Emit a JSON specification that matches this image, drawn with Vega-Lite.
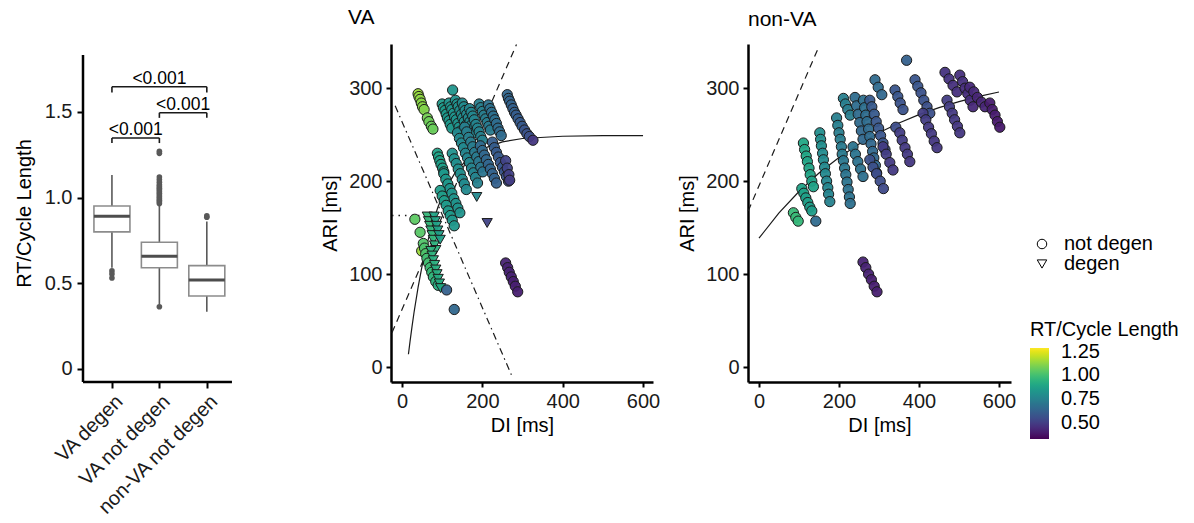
{
  "$schema": "https://vega.github.io/schema/vega-lite/v6.json",
  "background": "white",
  "padding": {"left": 14, "top": 7, "right": 5, "bottom": 5},
  "bounds": "flush",
  "spacing": 95,
  "config": {
    "font": "Liberation Sans",
    "view": {"stroke": null},
    "axis": {"grid": false, "domainColor": "black", "domainWidth": 2.5, "tickColor": "black", "tickWidth": 2, "tickSize": 5, "labelFontSize": 20, "labelColor": "#1a1a1a", "labelPadding": 4, "titleFontSize": 20, "titleFontWeight": "normal", "titleColor": "black"},
    "legend": {"labelFontSize": 20, "titleFontSize": 20, "titleFontWeight": "normal", "titleColor": "black", "labelColor": "black", "rowPadding": 0, "padding": 0, "labelOverlap": false},
    "title": {"fontSize": 21, "fontWeight": "normal", "anchor": "start", "frame": "group", "color": "black", "offset": 14}
  },
  "resolve": {"scale": {"color": "shared", "shape": "shared"}, "legend": {"color": "shared", "shape": "shared"}},
  "datasets": {
    "box": [
      {"pos": 1, "group": "VA degen", "lower": 0.59, "q1": 0.80, "median": 0.891, "q3": 0.951, "upper": 1.132},
      {"pos": 2, "group": "VA not degen", "lower": 0.375, "q1": 0.591, "median": 0.657, "q3": 0.739, "upper": 0.955},
      {"pos": 3, "group": "non-VA not degen", "lower": 0.334, "q1": 0.426, "median": 0.519, "q3": 0.603, "upper": 0.86}
    ],
    "outliers": [
      {"pos": 1, "value": 0.572}, {"pos": 1, "value": 0.554}, {"pos": 1, "value": 0.531},
      {"pos": 2, "value": 0.363}, {"pos": 2, "value": 0.965}, {"pos": 2, "value": 0.975}, {"pos": 2, "value": 0.985},
      {"pos": 2, "value": 0.995}, {"pos": 2, "value": 1.005}, {"pos": 2, "value": 1.015}, {"pos": 2, "value": 1.025},
      {"pos": 2, "value": 1.035}, {"pos": 2, "value": 1.045}, {"pos": 2, "value": 1.055}, {"pos": 2, "value": 1.065},
      {"pos": 2, "value": 1.075}, {"pos": 2, "value": 1.09}, {"pos": 2, "value": 1.105}, {"pos": 2, "value": 1.12},
      {"pos": 2, "value": 1.258}, {"pos": 2, "value": 1.27},
      {"pos": 3, "value": 0.885}, {"pos": 3, "value": 0.893}
    ],
    "brackets": [
      {"from": 1, "to": 2, "mid": 1.5, "y": 1.348, "tip": 1.318, "label": "<0.001"},
      {"from": 2, "to": 3, "mid": 2.5, "y": 1.495, "tip": 1.465, "label": "<0.001"},
      {"from": 1, "to": 3, "mid": 2.0, "y": 1.647, "tip": 1.613, "label": "<0.001"}
    ],
    "va": [
      {"DI": 40, "ARI": 294, "ratio": 1.15, "type": "not degen"}, {"DI": 42, "ARI": 291, "ratio": 1.14, "type": "not degen"},
      {"DI": 45, "ARI": 288, "ratio": 1.13, "type": "not degen"}, {"DI": 48, "ARI": 284, "ratio": 1.12, "type": "not degen"},
      {"DI": 51, "ARI": 280, "ratio": 1.12, "type": "not degen"}, {"DI": 55, "ARI": 277, "ratio": 1.11, "type": "not degen"},
      {"DI": 63, "ARI": 268, "ratio": 1.09, "type": "not degen"}, {"DI": 67, "ARI": 264, "ratio": 1.08, "type": "not degen"},
      {"DI": 73, "ARI": 259, "ratio": 1.07, "type": "not degen"}, {"DI": 77, "ARI": 256, "ratio": 1.07, "type": "not degen"},
      {"DI": 126, "ARI": 298, "ratio": 0.83, "type": "not degen"},
      {"DI": 88, "ARI": 230, "ratio": 0.88, "type": "not degen"}, {"DI": 91, "ARI": 226, "ratio": 0.88, "type": "not degen"},
      {"DI": 94, "ARI": 222, "ratio": 0.88, "type": "not degen"}, {"DI": 97, "ARI": 218, "ratio": 0.87, "type": "not degen"},
      {"DI": 101, "ARI": 214, "ratio": 0.87, "type": "not degen"}, {"DI": 104, "ARI": 210, "ratio": 0.87, "type": "not degen"},
      {"DI": 100, "ARI": 283, "ratio": 0.85, "type": "not degen"}, {"DI": 103, "ARI": 279, "ratio": 0.85, "type": "not degen"},
      {"DI": 107, "ARI": 276, "ratio": 0.85, "type": "not degen"}, {"DI": 110, "ARI": 272, "ratio": 0.85, "type": "not degen"},
      {"DI": 113, "ARI": 268, "ratio": 0.84, "type": "not degen"}, {"DI": 117, "ARI": 265, "ratio": 0.84, "type": "not degen"},
      {"DI": 120, "ARI": 261, "ratio": 0.84, "type": "not degen"}, {"DI": 124, "ARI": 257, "ratio": 0.84, "type": "not degen"},
      {"DI": 117, "ARI": 284, "ratio": 0.83, "type": "not degen"}, {"DI": 121, "ARI": 280, "ratio": 0.83, "type": "not degen"},
      {"DI": 124, "ARI": 277, "ratio": 0.83, "type": "not degen"}, {"DI": 128, "ARI": 273, "ratio": 0.83, "type": "not degen"},
      {"DI": 131, "ARI": 269, "ratio": 0.82, "type": "not degen"}, {"DI": 135, "ARI": 266, "ratio": 0.82, "type": "not degen"},
      {"DI": 139, "ARI": 262, "ratio": 0.82, "type": "not degen"}, {"DI": 142, "ARI": 258, "ratio": 0.82, "type": "not degen"},
      {"DI": 146, "ARI": 254, "ratio": 0.81, "type": "not degen"},
      {"DI": 133, "ARI": 287, "ratio": 0.81, "type": "not degen"}, {"DI": 137, "ARI": 283, "ratio": 0.81, "type": "not degen"},
      {"DI": 140, "ARI": 280, "ratio": 0.81, "type": "not degen"}, {"DI": 144, "ARI": 276, "ratio": 0.8, "type": "not degen"},
      {"DI": 148, "ARI": 272, "ratio": 0.8, "type": "not degen"}, {"DI": 151, "ARI": 268, "ratio": 0.8, "type": "not degen"},
      {"DI": 155, "ARI": 264, "ratio": 0.8, "type": "not degen"}, {"DI": 159, "ARI": 260, "ratio": 0.79, "type": "not degen"},
      {"DI": 150, "ARI": 284, "ratio": 0.79, "type": "not degen"}, {"DI": 154, "ARI": 280, "ratio": 0.79, "type": "not degen"},
      {"DI": 157, "ARI": 276, "ratio": 0.79, "type": "not degen"}, {"DI": 161, "ARI": 272, "ratio": 0.78, "type": "not degen"},
      {"DI": 165, "ARI": 268, "ratio": 0.78, "type": "not degen"}, {"DI": 169, "ARI": 264, "ratio": 0.78, "type": "not degen"},
      {"DI": 172, "ARI": 260, "ratio": 0.78, "type": "not degen"}, {"DI": 176, "ARI": 256, "ratio": 0.77, "type": "not degen"},
      {"DI": 180, "ARI": 252, "ratio": 0.77, "type": "not degen"},
      {"DI": 168, "ARI": 278, "ratio": 0.77, "type": "not degen"}, {"DI": 172, "ARI": 274, "ratio": 0.77, "type": "not degen"},
      {"DI": 176, "ARI": 270, "ratio": 0.77, "type": "not degen"}, {"DI": 180, "ARI": 266, "ratio": 0.76, "type": "not degen"},
      {"DI": 184, "ARI": 261, "ratio": 0.76, "type": "not degen"}, {"DI": 188, "ARI": 257, "ratio": 0.76, "type": "not degen"},
      {"DI": 192, "ARI": 253, "ratio": 0.75, "type": "not degen"}, {"DI": 196, "ARI": 248, "ratio": 0.75, "type": "not degen"},
      {"DI": 200, "ARI": 244, "ratio": 0.75, "type": "not degen"},
      {"DI": 192, "ARI": 283, "ratio": 0.74, "type": "not degen"}, {"DI": 196, "ARI": 279, "ratio": 0.74, "type": "not degen"},
      {"DI": 200, "ARI": 275, "ratio": 0.74, "type": "not degen"}, {"DI": 204, "ARI": 271, "ratio": 0.73, "type": "not degen"},
      {"DI": 208, "ARI": 267, "ratio": 0.73, "type": "not degen"}, {"DI": 212, "ARI": 263, "ratio": 0.73, "type": "not degen"},
      {"DI": 216, "ARI": 259, "ratio": 0.72, "type": "not degen"}, {"DI": 220, "ARI": 255, "ratio": 0.72, "type": "not degen"},
      {"DI": 215, "ARI": 282, "ratio": 0.69, "type": "not degen"}, {"DI": 219, "ARI": 278, "ratio": 0.69, "type": "not degen"},
      {"DI": 223, "ARI": 274, "ratio": 0.68, "type": "not degen"}, {"DI": 227, "ARI": 270, "ratio": 0.68, "type": "not degen"},
      {"DI": 231, "ARI": 266, "ratio": 0.68, "type": "not degen"}, {"DI": 235, "ARI": 262, "ratio": 0.67, "type": "not degen"},
      {"DI": 239, "ARI": 257, "ratio": 0.67, "type": "not degen"}, {"DI": 243, "ARI": 253, "ratio": 0.66, "type": "not degen"},
      {"DI": 247, "ARI": 249, "ratio": 0.66, "type": "not degen"},
      {"DI": 262, "ARI": 293, "ratio": 0.64, "type": "not degen"}, {"DI": 265, "ARI": 289, "ratio": 0.64, "type": "not degen"},
      {"DI": 268, "ARI": 286, "ratio": 0.63, "type": "not degen"}, {"DI": 272, "ARI": 282, "ratio": 0.63, "type": "not degen"},
      {"DI": 276, "ARI": 278, "ratio": 0.62, "type": "not degen"}, {"DI": 280, "ARI": 274, "ratio": 0.62, "type": "not degen"},
      {"DI": 284, "ARI": 271, "ratio": 0.61, "type": "not degen"}, {"DI": 289, "ARI": 267, "ratio": 0.61, "type": "not degen"},
      {"DI": 294, "ARI": 263, "ratio": 0.6, "type": "not degen"}, {"DI": 299, "ARI": 259, "ratio": 0.6, "type": "not degen"},
      {"DI": 305, "ARI": 255, "ratio": 0.58, "type": "not degen"}, {"DI": 311, "ARI": 251, "ratio": 0.57, "type": "not degen"},
      {"DI": 317, "ARI": 248, "ratio": 0.56, "type": "not degen"}, {"DI": 326, "ARI": 244, "ratio": 0.48, "type": "not degen"},
      {"DI": 138, "ARI": 252, "ratio": 0.78, "type": "not degen"}, {"DI": 143, "ARI": 246, "ratio": 0.78, "type": "not degen"},
      {"DI": 148, "ARI": 241, "ratio": 0.78, "type": "not degen"}, {"DI": 153, "ARI": 236, "ratio": 0.78, "type": "not degen"},
      {"DI": 158, "ARI": 230, "ratio": 0.77, "type": "not degen"}, {"DI": 163, "ARI": 225, "ratio": 0.77, "type": "not degen"},
      {"DI": 168, "ARI": 220, "ratio": 0.77, "type": "not degen"}, {"DI": 173, "ARI": 214, "ratio": 0.76, "type": "not degen"},
      {"DI": 178, "ARI": 209, "ratio": 0.76, "type": "not degen"}, {"DI": 183, "ARI": 204, "ratio": 0.76, "type": "not degen"},
      {"DI": 188, "ARI": 198, "ratio": 0.75, "type": "not degen"},
      {"DI": 156, "ARI": 258, "ratio": 0.74, "type": "not degen"}, {"DI": 161, "ARI": 253, "ratio": 0.74, "type": "not degen"},
      {"DI": 166, "ARI": 247, "ratio": 0.74, "type": "not degen"}, {"DI": 171, "ARI": 242, "ratio": 0.73, "type": "not degen"},
      {"DI": 176, "ARI": 237, "ratio": 0.73, "type": "not degen"}, {"DI": 181, "ARI": 231, "ratio": 0.72, "type": "not degen"},
      {"DI": 186, "ARI": 226, "ratio": 0.72, "type": "not degen"}, {"DI": 191, "ARI": 221, "ratio": 0.71, "type": "not degen"},
      {"DI": 196, "ARI": 215, "ratio": 0.71, "type": "not degen"}, {"DI": 201, "ARI": 210, "ratio": 0.7, "type": "not degen"},
      {"DI": 195, "ARI": 238, "ratio": 0.66, "type": "not degen"}, {"DI": 200, "ARI": 233, "ratio": 0.66, "type": "not degen"},
      {"DI": 205, "ARI": 228, "ratio": 0.65, "type": "not degen"}, {"DI": 210, "ARI": 223, "ratio": 0.65, "type": "not degen"},
      {"DI": 215, "ARI": 218, "ratio": 0.64, "type": "not degen"}, {"DI": 220, "ARI": 213, "ratio": 0.64, "type": "not degen"},
      {"DI": 225, "ARI": 208, "ratio": 0.63, "type": "not degen"}, {"DI": 230, "ARI": 203, "ratio": 0.63, "type": "not degen"},
      {"DI": 235, "ARI": 198, "ratio": 0.62, "type": "not degen"},
      {"DI": 225, "ARI": 242, "ratio": 0.61, "type": "not degen"}, {"DI": 230, "ARI": 236, "ratio": 0.61, "type": "not degen"},
      {"DI": 235, "ARI": 231, "ratio": 0.6, "type": "not degen"}, {"DI": 240, "ARI": 226, "ratio": 0.6, "type": "not degen"},
      {"DI": 245, "ARI": 220, "ratio": 0.59, "type": "not degen"}, {"DI": 250, "ARI": 215, "ratio": 0.59, "type": "not degen"},
      {"DI": 255, "ARI": 210, "ratio": 0.58, "type": "not degen"}, {"DI": 260, "ARI": 205, "ratio": 0.57, "type": "not degen"},
      {"DI": 265, "ARI": 200, "ratio": 0.56, "type": "not degen"},
      {"DI": 258, "ARI": 222, "ratio": 0.52, "type": "not degen"}, {"DI": 262, "ARI": 214, "ratio": 0.52, "type": "not degen"},
      {"DI": 266, "ARI": 207, "ratio": 0.51, "type": "not degen"}, {"DI": 268, "ARI": 201, "ratio": 0.5, "type": "not degen"},
      {"DI": 125, "ARI": 230, "ratio": 0.81, "type": "not degen"}, {"DI": 130, "ARI": 224, "ratio": 0.81, "type": "not degen"},
      {"DI": 135, "ARI": 219, "ratio": 0.8, "type": "not degen"}, {"DI": 140, "ARI": 213, "ratio": 0.8, "type": "not degen"},
      {"DI": 145, "ARI": 208, "ratio": 0.8, "type": "not degen"}, {"DI": 150, "ARI": 202, "ratio": 0.79, "type": "not degen"},
      {"DI": 155, "ARI": 197, "ratio": 0.79, "type": "not degen"}, {"DI": 160, "ARI": 191, "ratio": 0.78, "type": "not degen"},
      {"DI": 104, "ARI": 208, "ratio": 0.84, "type": "not degen"}, {"DI": 109, "ARI": 202, "ratio": 0.84, "type": "not degen"},
      {"DI": 114, "ARI": 197, "ratio": 0.84, "type": "not degen"}, {"DI": 119, "ARI": 192, "ratio": 0.83, "type": "not degen"},
      {"DI": 124, "ARI": 187, "ratio": 0.83, "type": "not degen"}, {"DI": 129, "ARI": 181, "ratio": 0.83, "type": "not degen"},
      {"DI": 134, "ARI": 176, "ratio": 0.82, "type": "not degen"}, {"DI": 139, "ARI": 171, "ratio": 0.82, "type": "not degen"},
      {"DI": 144, "ARI": 166, "ratio": 0.82, "type": "not degen"},
      {"DI": 95, "ARI": 190, "ratio": 0.86, "type": "not degen"}, {"DI": 100, "ARI": 184, "ratio": 0.86, "type": "not degen"},
      {"DI": 105, "ARI": 179, "ratio": 0.86, "type": "not degen"}, {"DI": 110, "ARI": 174, "ratio": 0.85, "type": "not degen"},
      {"DI": 115, "ARI": 168, "ratio": 0.85, "type": "not degen"}, {"DI": 120, "ARI": 163, "ratio": 0.85, "type": "not degen"},
      {"DI": 125, "ARI": 158, "ratio": 0.84, "type": "not degen"}, {"DI": 130, "ARI": 152, "ratio": 0.84, "type": "not degen"},
      {"DI": 32, "ARI": 159, "ratio": 1.05, "type": "not degen"}, {"DI": 45, "ARI": 145, "ratio": 1.04, "type": "not degen"},
      {"DI": 49, "ARI": 125, "ratio": 1.15, "type": "not degen"}, {"DI": 53, "ARI": 133, "ratio": 1.03, "type": "not degen"},
      {"DI": 56, "ARI": 128, "ratio": 1.02, "type": "not degen"}, {"DI": 59, "ARI": 122, "ratio": 1.02, "type": "not degen"},
      {"DI": 62, "ARI": 117, "ratio": 1.0, "type": "not degen"}, {"DI": 66, "ARI": 112, "ratio": 1.0, "type": "not degen"},
      {"DI": 70, "ARI": 107, "ratio": 0.99, "type": "not degen"}, {"DI": 74, "ARI": 102, "ratio": 0.98, "type": "not degen"},
      {"DI": 78, "ARI": 97, "ratio": 0.96, "type": "not degen"}, {"DI": 84, "ARI": 92, "ratio": 0.95, "type": "not degen"},
      {"DI": 90, "ARI": 88, "ratio": 0.92, "type": "not degen"},
      {"DI": 63, "ARI": 162, "ratio": 0.97, "type": "degen"}, {"DI": 66, "ARI": 157, "ratio": 0.97, "type": "degen"},
      {"DI": 69, "ARI": 152, "ratio": 0.97, "type": "degen"}, {"DI": 72, "ARI": 147, "ratio": 0.96, "type": "degen"},
      {"DI": 75, "ARI": 142, "ratio": 0.96, "type": "degen"}, {"DI": 78, "ARI": 137, "ratio": 0.96, "type": "degen"},
      {"DI": 81, "ARI": 131, "ratio": 0.95, "type": "degen"}, {"DI": 84, "ARI": 126, "ratio": 0.95, "type": "degen"},
      {"DI": 72, "ARI": 125, "ratio": 0.95, "type": "degen"}, {"DI": 75, "ARI": 120, "ratio": 0.95, "type": "degen"},
      {"DI": 78, "ARI": 115, "ratio": 0.94, "type": "degen"}, {"DI": 81, "ARI": 110, "ratio": 0.94, "type": "degen"},
      {"DI": 84, "ARI": 105, "ratio": 0.93, "type": "degen"}, {"DI": 87, "ARI": 100, "ratio": 0.93, "type": "degen"},
      {"DI": 90, "ARI": 95, "ratio": 0.92, "type": "degen"}, {"DI": 93, "ARI": 90, "ratio": 0.92, "type": "degen"},
      {"DI": 96, "ARI": 85, "ratio": 0.91, "type": "degen"},
      {"DI": 80, "ARI": 162, "ratio": 0.89, "type": "degen"}, {"DI": 83, "ARI": 157, "ratio": 0.89, "type": "degen"},
      {"DI": 86, "ARI": 152, "ratio": 0.88, "type": "degen"}, {"DI": 89, "ARI": 147, "ratio": 0.88, "type": "degen"},
      {"DI": 92, "ARI": 142, "ratio": 0.87, "type": "degen"}, {"DI": 95, "ARI": 137, "ratio": 0.87, "type": "degen"},
      {"DI": 186, "ARI": 183, "ratio": 0.78, "type": "degen"},
      {"DI": 212, "ARI": 155, "ratio": 0.52, "type": "degen"},
      {"DI": 130, "ARI": 62, "ratio": 0.65, "type": "not degen"}, {"DI": 111, "ARI": 83, "ratio": 0.62, "type": "not degen"},
      {"DI": 258, "ARI": 112, "ratio": 0.42, "type": "not degen"}, {"DI": 263, "ARI": 107, "ratio": 0.42, "type": "not degen"},
      {"DI": 267, "ARI": 102, "ratio": 0.42, "type": "not degen"}, {"DI": 272, "ARI": 97, "ratio": 0.42, "type": "not degen"},
      {"DI": 277, "ARI": 92, "ratio": 0.41, "type": "not degen"}, {"DI": 282, "ARI": 87, "ratio": 0.41, "type": "not degen"},
      {"DI": 288, "ARI": 81, "ratio": 0.41, "type": "not degen"}
    ],
    "nonva": [
      {"DI": 86, "ARI": 166, "ratio": 0.98, "type": "not degen"}, {"DI": 92, "ARI": 161, "ratio": 0.98, "type": "not degen"},
      {"DI": 98, "ARI": 157, "ratio": 0.97, "type": "not degen"},
      {"DI": 142, "ARI": 157, "ratio": 0.66, "type": "not degen"},
      {"DI": 111, "ARI": 241, "ratio": 0.9, "type": "not degen"}, {"DI": 114, "ARI": 234, "ratio": 0.9, "type": "not degen"},
      {"DI": 118, "ARI": 227, "ratio": 0.9, "type": "not degen"}, {"DI": 121, "ARI": 221, "ratio": 0.89, "type": "not degen"},
      {"DI": 125, "ARI": 214, "ratio": 0.89, "type": "not degen"}, {"DI": 128, "ARI": 207, "ratio": 0.89, "type": "not degen"},
      {"DI": 132, "ARI": 200, "ratio": 0.88, "type": "not degen"}, {"DI": 136, "ARI": 194, "ratio": 0.88, "type": "not degen"},
      {"DI": 107, "ARI": 192, "ratio": 0.88, "type": "not degen"}, {"DI": 112, "ARI": 187, "ratio": 0.88, "type": "not degen"},
      {"DI": 117, "ARI": 182, "ratio": 0.87, "type": "not degen"}, {"DI": 122, "ARI": 177, "ratio": 0.87, "type": "not degen"},
      {"DI": 127, "ARI": 172, "ratio": 0.86, "type": "not degen"}, {"DI": 132, "ARI": 168, "ratio": 0.86, "type": "not degen"},
      {"DI": 152, "ARI": 252, "ratio": 0.8, "type": "not degen"}, {"DI": 154, "ARI": 245, "ratio": 0.8, "type": "not degen"},
      {"DI": 156, "ARI": 238, "ratio": 0.8, "type": "not degen"}, {"DI": 159, "ARI": 230, "ratio": 0.79, "type": "not degen"},
      {"DI": 161, "ARI": 223, "ratio": 0.79, "type": "not degen"}, {"DI": 164, "ARI": 215, "ratio": 0.78, "type": "not degen"},
      {"DI": 166, "ARI": 208, "ratio": 0.78, "type": "not degen"}, {"DI": 169, "ARI": 200, "ratio": 0.77, "type": "not degen"},
      {"DI": 172, "ARI": 193, "ratio": 0.77, "type": "not degen"}, {"DI": 174, "ARI": 186, "ratio": 0.76, "type": "not degen"},
      {"DI": 177, "ARI": 178, "ratio": 0.75, "type": "not degen"},
      {"DI": 194, "ARI": 268, "ratio": 0.74, "type": "not degen"}, {"DI": 197, "ARI": 260, "ratio": 0.74, "type": "not degen"},
      {"DI": 200, "ARI": 252, "ratio": 0.73, "type": "not degen"}, {"DI": 203, "ARI": 245, "ratio": 0.73, "type": "not degen"},
      {"DI": 206, "ARI": 237, "ratio": 0.72, "type": "not degen"}, {"DI": 208, "ARI": 229, "ratio": 0.72, "type": "not degen"},
      {"DI": 211, "ARI": 222, "ratio": 0.71, "type": "not degen"}, {"DI": 214, "ARI": 214, "ratio": 0.71, "type": "not degen"},
      {"DI": 217, "ARI": 207, "ratio": 0.7, "type": "not degen"}, {"DI": 220, "ARI": 199, "ratio": 0.7, "type": "not degen"},
      {"DI": 223, "ARI": 191, "ratio": 0.69, "type": "not degen"}, {"DI": 226, "ARI": 183, "ratio": 0.69, "type": "not degen"},
      {"DI": 228, "ARI": 176, "ratio": 0.68, "type": "not degen"},
      {"DI": 211, "ARI": 289, "ratio": 0.74, "type": "not degen"}, {"DI": 216, "ARI": 283, "ratio": 0.74, "type": "not degen"},
      {"DI": 222, "ARI": 277, "ratio": 0.73, "type": "not degen"}, {"DI": 228, "ARI": 271, "ratio": 0.73, "type": "not degen"},
      {"DI": 240, "ARI": 290, "ratio": 0.67, "type": "not degen"}, {"DI": 244, "ARI": 281, "ratio": 0.67, "type": "not degen"},
      {"DI": 248, "ARI": 272, "ratio": 0.66, "type": "not degen"}, {"DI": 252, "ARI": 263, "ratio": 0.66, "type": "not degen"},
      {"DI": 256, "ARI": 254, "ratio": 0.65, "type": "not degen"}, {"DI": 260, "ARI": 245, "ratio": 0.65, "type": "not degen"},
      {"DI": 235, "ARI": 237, "ratio": 0.7, "type": "not degen"}, {"DI": 241, "ARI": 229, "ratio": 0.7, "type": "not degen"},
      {"DI": 247, "ARI": 221, "ratio": 0.69, "type": "not degen"}, {"DI": 254, "ARI": 213, "ratio": 0.69, "type": "not degen"},
      {"DI": 260, "ARI": 205, "ratio": 0.68, "type": "not degen"},
      {"DI": 261, "ARI": 287, "ratio": 0.68, "type": "not degen"}, {"DI": 264, "ARI": 279, "ratio": 0.68, "type": "not degen"},
      {"DI": 267, "ARI": 271, "ratio": 0.67, "type": "not degen"}, {"DI": 270, "ARI": 264, "ratio": 0.67, "type": "not degen"},
      {"DI": 274, "ARI": 256, "ratio": 0.66, "type": "not degen"}, {"DI": 277, "ARI": 248, "ratio": 0.66, "type": "not degen"},
      {"DI": 280, "ARI": 240, "ratio": 0.65, "type": "not degen"}, {"DI": 284, "ARI": 232, "ratio": 0.65, "type": "not degen"},
      {"DI": 287, "ARI": 225, "ratio": 0.64, "type": "not degen"}, {"DI": 291, "ARI": 217, "ratio": 0.64, "type": "not degen"},
      {"DI": 294, "ARI": 209, "ratio": 0.63, "type": "not degen"},
      {"DI": 290, "ARI": 309, "ratio": 0.66, "type": "not degen"}, {"DI": 298, "ARI": 301, "ratio": 0.66, "type": "not degen"},
      {"DI": 307, "ARI": 293, "ratio": 0.65, "type": "not degen"},
      {"DI": 277, "ARI": 287, "ratio": 0.6, "type": "not degen"}, {"DI": 282, "ARI": 280, "ratio": 0.6, "type": "not degen"},
      {"DI": 288, "ARI": 272, "ratio": 0.6, "type": "not degen"}, {"DI": 293, "ARI": 264, "ratio": 0.59, "type": "not degen"},
      {"DI": 299, "ARI": 257, "ratio": 0.59, "type": "not degen"}, {"DI": 304, "ARI": 249, "ratio": 0.58, "type": "not degen"},
      {"DI": 310, "ARI": 241, "ratio": 0.58, "type": "not degen"}, {"DI": 315, "ARI": 234, "ratio": 0.57, "type": "not degen"},
      {"DI": 277, "ARI": 223, "ratio": 0.56, "type": "not degen"}, {"DI": 285, "ARI": 215, "ratio": 0.56, "type": "not degen"},
      {"DI": 294, "ARI": 208, "ratio": 0.55, "type": "not degen"}, {"DI": 303, "ARI": 200, "ratio": 0.55, "type": "not degen"},
      {"DI": 311, "ARI": 192, "ratio": 0.54, "type": "not degen"},
      {"DI": 310, "ARI": 237, "ratio": 0.5, "type": "not degen"}, {"DI": 318, "ARI": 229, "ratio": 0.5, "type": "not degen"},
      {"DI": 327, "ARI": 220, "ratio": 0.49, "type": "not degen"}, {"DI": 335, "ARI": 212, "ratio": 0.49, "type": "not degen"},
      {"DI": 340, "ARI": 298, "ratio": 0.58, "type": "not degen"}, {"DI": 347, "ARI": 291, "ratio": 0.58, "type": "not degen"},
      {"DI": 353, "ARI": 284, "ratio": 0.57, "type": "not degen"}, {"DI": 360, "ARI": 277, "ratio": 0.57, "type": "not degen"},
      {"DI": 342, "ARI": 258, "ratio": 0.55, "type": "not degen"},
      {"DI": 352, "ARI": 252, "ratio": 0.5, "type": "not degen"}, {"DI": 358, "ARI": 244, "ratio": 0.5, "type": "not degen"},
      {"DI": 365, "ARI": 236, "ratio": 0.49, "type": "not degen"}, {"DI": 371, "ARI": 229, "ratio": 0.49, "type": "not degen"},
      {"DI": 377, "ARI": 221, "ratio": 0.48, "type": "not degen"},
      {"DI": 369, "ARI": 330, "ratio": 0.62, "type": "not degen"},
      {"DI": 390, "ARI": 309, "ratio": 0.58, "type": "not degen"}, {"DI": 397, "ARI": 302, "ratio": 0.58, "type": "not degen"},
      {"DI": 405, "ARI": 295, "ratio": 0.57, "type": "not degen"}, {"DI": 412, "ARI": 287, "ratio": 0.57, "type": "not degen"},
      {"DI": 420, "ARI": 280, "ratio": 0.56, "type": "not degen"}, {"DI": 427, "ARI": 273, "ratio": 0.56, "type": "not degen"},
      {"DI": 410, "ARI": 273, "ratio": 0.5, "type": "not degen"}, {"DI": 417, "ARI": 266, "ratio": 0.5, "type": "not degen"},
      {"DI": 424, "ARI": 258, "ratio": 0.49, "type": "not degen"}, {"DI": 431, "ARI": 251, "ratio": 0.49, "type": "not degen"},
      {"DI": 438, "ARI": 243, "ratio": 0.48, "type": "not degen"}, {"DI": 445, "ARI": 236, "ratio": 0.48, "type": "not degen"},
      {"DI": 465, "ARI": 317, "ratio": 0.47, "type": "not degen"}, {"DI": 475, "ARI": 310, "ratio": 0.47, "type": "not degen"},
      {"DI": 485, "ARI": 303, "ratio": 0.46, "type": "not degen"}, {"DI": 495, "ARI": 296, "ratio": 0.46, "type": "not degen"},
      {"DI": 470, "ARI": 287, "ratio": 0.5, "type": "not degen"}, {"DI": 476, "ARI": 280, "ratio": 0.5, "type": "not degen"},
      {"DI": 483, "ARI": 273, "ratio": 0.49, "type": "not degen"}, {"DI": 489, "ARI": 266, "ratio": 0.49, "type": "not degen"},
      {"DI": 496, "ARI": 259, "ratio": 0.48, "type": "not degen"}, {"DI": 502, "ARI": 252, "ratio": 0.48, "type": "not degen"},
      {"DI": 502, "ARI": 314, "ratio": 0.46, "type": "not degen"}, {"DI": 509, "ARI": 307, "ratio": 0.46, "type": "not degen"},
      {"DI": 515, "ARI": 300, "ratio": 0.45, "type": "not degen"}, {"DI": 522, "ARI": 294, "ratio": 0.45, "type": "not degen"},
      {"DI": 528, "ARI": 287, "ratio": 0.45, "type": "not degen"}, {"DI": 535, "ARI": 280, "ratio": 0.44, "type": "not degen"},
      {"DI": 527, "ARI": 301, "ratio": 0.44, "type": "not degen"}, {"DI": 537, "ARI": 296, "ratio": 0.44, "type": "not degen"},
      {"DI": 546, "ARI": 290, "ratio": 0.43, "type": "not degen"}, {"DI": 556, "ARI": 285, "ratio": 0.43, "type": "not degen"},
      {"DI": 565, "ARI": 280, "ratio": 0.43, "type": "not degen"},
      {"DI": 577, "ARI": 284, "ratio": 0.4, "type": "not degen"}, {"DI": 583, "ARI": 277, "ratio": 0.4, "type": "not degen"},
      {"DI": 590, "ARI": 271, "ratio": 0.4, "type": "not degen"}, {"DI": 596, "ARI": 264, "ratio": 0.39, "type": "not degen"},
      {"DI": 602, "ARI": 258, "ratio": 0.39, "type": "not degen"},
      {"DI": 260, "ARI": 113, "ratio": 0.42, "type": "not degen"}, {"DI": 267, "ARI": 107, "ratio": 0.42, "type": "not degen"},
      {"DI": 274, "ARI": 100, "ratio": 0.42, "type": "not degen"}, {"DI": 281, "ARI": 94, "ratio": 0.41, "type": "not degen"},
      {"DI": 288, "ARI": 87, "ratio": 0.41, "type": "not degen"}, {"DI": 295, "ARI": 81, "ratio": 0.41, "type": "not degen"}
    ],
    "valines": [
      {"line": "dash", "DI": -25, "ARI": 37}, {"line": "dash", "DI": 285, "ARI": 347},
      {"line": "dashdot", "DI": -17, "ARI": 281}, {"line": "dashdot", "DI": 273, "ARI": -9},
      {"line": "dot", "DI": -25, "ARI": 163}, {"line": "dot", "DI": 50, "ARI": 163},
      {"line": "fit", "DI": 16, "ARI": 13.8}, {"line": "fit", "DI": 20, "ARI": 27.7}, {"line": "fit", "DI": 25, "ARI": 43.9},
      {"line": "fit", "DI": 30, "ARI": 59.0}, {"line": "fit", "DI": 40, "ARI": 85.8}, {"line": "fit", "DI": 50, "ARI": 108.8},
      {"line": "fit", "DI": 60, "ARI": 128.6}, {"line": "fit", "DI": 75, "ARI": 153.2}, {"line": "fit", "DI": 90, "ARI": 172.8},
      {"line": "fit", "DI": 110, "ARI": 192.8}, {"line": "fit", "DI": 130, "ARI": 207.5}, {"line": "fit", "DI": 160, "ARI": 222.7},
      {"line": "fit", "DI": 200, "ARI": 234.7}, {"line": "fit", "DI": 250, "ARI": 242.3}, {"line": "fit", "DI": 300, "ARI": 245.9},
      {"line": "fit", "DI": 400, "ARI": 248.3}, {"line": "fit", "DI": 500, "ARI": 248.9}, {"line": "fit", "DI": 600, "ARI": 249.0}
    ],
    "nonvalines": [
      {"line": "dash", "DI": -27, "ARI": 168}, {"line": "dash", "DI": 148, "ARI": 343},
      {"line": "fit", "DI": 0, "ARI": 138.7}, {"line": "fit", "DI": 50, "ARI": 165.8}, {"line": "fit", "DI": 100, "ARI": 188.9},
      {"line": "fit", "DI": 150, "ARI": 208.7}, {"line": "fit", "DI": 200, "ARI": 225.5}, {"line": "fit", "DI": 250, "ARI": 239.9},
      {"line": "fit", "DI": 300, "ARI": 252.1}, {"line": "fit", "DI": 350, "ARI": 262.6}, {"line": "fit", "DI": 400, "ARI": 271.5},
      {"line": "fit", "DI": 450, "ARI": 279.1}, {"line": "fit", "DI": 500, "ARI": 285.6}, {"line": "fit", "DI": 550, "ARI": 291.2},
      {"line": "fit", "DI": 600, "ARI": 295.9}
    ]
  },
  "hconcat": [
    {
      "width": 213,
      "height": 338,
      "layer": [
        {"data": {"name": "box"}, "mark": {"type": "rule", "color": "#595959", "strokeWidth": 1.6},
         "encoding": {
           "x": {"field": "pos", "type": "quantitative", "scale": {"domain": [0.39, 4.88], "nice": false, "zero": false, "padding": 0},
                 "axis": {"values": [1, 2, 3], "domain": false, "title": null, "labelAngle": -45, "labelAlign": "right", "labelBaseline": "top", "labelPadding": 3, "tickSize": 6, "labelOverlap": false,
                          "labelExpr": "datum.value == 1 ? 'VA degen' : datum.value == 2 ? 'VA not degen' : 'non-VA not degen'"}},
           "y": {"field": "lower", "type": "quantitative", "scale": {"domain": [-0.076, 1.896], "nice": false, "zero": false, "padding": 0},
                 "axis": {"values": [0, 0.5, 1, 1.5], "domain": false, "title": "RT/Cycle Length", "titlePadding": 10, "tickSize": 6, "labelPadding": 5,
                          "labelExpr": "datum.value == 0 ? '0' : format(datum.value, '.1f')"}},
           "y2": {"field": "upper"}}},
        {"data": {"name": "box"}, "mark": {"type": "bar", "width": 36, "fill": "white", "stroke": "#8c8c8c", "strokeWidth": 1.6},
         "encoding": {"x": {"field": "pos", "type": "quantitative"}, "y": {"field": "q1", "type": "quantitative"}, "y2": {"field": "q3"}}},
        {"data": {"name": "box"}, "mark": {"type": "tick", "orient": "horizontal", "size": 36, "thickness": 3, "color": "#4d4d4d", "opacity": 1},
         "encoding": {"x": {"field": "pos", "type": "quantitative"}, "y": {"field": "median", "type": "quantitative"}}},
        {"data": {"name": "outliers"}, "mark": {"type": "circle", "size": 32, "color": "#595959", "opacity": 1},
         "encoding": {"x": {"field": "pos", "type": "quantitative"}, "y": {"field": "value", "type": "quantitative"}}},
        {"data": {"name": "brackets"}, "mark": {"type": "rule", "color": "#1a1a1a", "strokeWidth": 1.6},
         "encoding": {"x": {"field": "from", "type": "quantitative"}, "x2": {"field": "to"}, "y": {"field": "y", "type": "quantitative"}}},
        {"data": {"name": "brackets"}, "mark": {"type": "rule", "color": "#1a1a1a", "strokeWidth": 1.6},
         "encoding": {"x": {"field": "from", "type": "quantitative"}, "y": {"field": "y", "type": "quantitative"}, "y2": {"field": "tip"}}},
        {"data": {"name": "brackets"}, "mark": {"type": "rule", "color": "#1a1a1a", "strokeWidth": 1.6},
         "encoding": {"x": {"field": "to", "type": "quantitative"}, "y": {"field": "y", "type": "quantitative"}, "y2": {"field": "tip"}}},
        {"data": {"name": "brackets"}, "mark": {"type": "text", "fontSize": 17.5, "baseline": "bottom", "dy": 1, "color": "black"},
         "encoding": {"x": {"field": "mid", "type": "quantitative"}, "y": {"field": "y", "type": "quantitative"}, "text": {"field": "label"}}},
        {"data": {"values": [{}]}, "mark": {"type": "rule", "color": "black", "strokeWidth": 2.5},
         "encoding": {"x": {"datum": 0.39, "type": "quantitative"}, "y": {"datum": -0.076, "type": "quantitative"}, "y2": {"datum": 1.832}}},
        {"data": {"values": [{}]}, "mark": {"type": "rule", "color": "black", "strokeWidth": 2.5},
         "encoding": {"x": {"datum": 0.39, "type": "quantitative"}, "x2": {"datum": 3.53}, "y": {"datum": -0.076, "type": "quantitative"}}}
      ]
    },
    {
      "width": 262,
      "height": 338,
      "title": {"text": "VA", "dx": -43},
      "encoding": {
        "x": {"field": "DI", "type": "quantitative", "scale": {"domain": [-27.4, 624.8], "nice": false, "zero": false},
              "axis": {"values": [0, 200, 400, 600], "title": "DI [ms]", "titlePadding": 4}},
        "y": {"field": "ARI", "type": "quantitative", "scale": {"domain": [-16, 347.5], "nice": false, "zero": false},
              "axis": {"values": [0, 100, 200, 300], "title": "ARI [ms]", "titlePadding": 8}}
      },
      "layer": [
        {"data": {"name": "valines"}, "transform": [{"filter": "datum.line == 'dash'"}],
         "mark": {"type": "line", "color": "#1a1a1a", "strokeWidth": 1.2, "strokeDash": [7, 5]}},
        {"data": {"name": "valines"}, "transform": [{"filter": "datum.line == 'dashdot'"}],
         "mark": {"type": "line", "color": "#1a1a1a", "strokeWidth": 1.2, "strokeDash": [7, 4, 1.5, 4]}},
        {"data": {"name": "valines"}, "transform": [{"filter": "datum.line == 'dot'"}],
         "mark": {"type": "line", "color": "#1a1a1a", "strokeWidth": 1.5, "strokeDash": [1.5, 5]}},
        {"data": {"name": "valines"}, "transform": [{"filter": "datum.line == 'fit'"}],
         "mark": {"type": "line", "color": "#1a1a1a", "strokeWidth": 1.2}},
        {"data": {"name": "va"},
         "mark": {"type": "point", "filled": true, "size": 105, "stroke": "#1a1a1a", "strokeWidth": 1, "opacity": 1, "fillOpacity": 0.95},
         "encoding": {
           "color": {"field": "ratio", "type": "quantitative", "scale": {"scheme": "viridis", "domain": [0.33, 1.29]},
                     "legend": {"title": "RT/Cycle Length", "orient": "none", "legendX": 947, "legendY": 276, "direction": "vertical", "values": [0.5, 0.75, 1, 1.25], "format": ".2f", "gradientLength": 91, "gradientThickness": 19, "labelOffset": 12, "titlePadding": 8}},
           "shape": {"field": "type", "type": "nominal", "scale": {"domain": ["not degen", "degen"], "range": ["circle", "triangle-down"]},
                     "legend": {"title": null, "orient": "none", "legendX": 949, "legendY": 190, "symbolFillColor": "white", "symbolStrokeColor": "black", "symbolStrokeWidth": 1, "symbolSize": 90, "labelOffset": 12}}
         }}
      ]
    },
    {
      "width": 263,
      "height": 338,
      "title": {"text": "non-VA"},
      "encoding": {
        "x": {"field": "DI", "type": "quantitative", "scale": {"domain": [-27.5, 630], "nice": false, "zero": false},
              "axis": {"values": [0, 200, 400, 600], "title": "DI [ms]", "titlePadding": 4}},
        "y": {"field": "ARI", "type": "quantitative", "scale": {"domain": [-16, 347.5], "nice": false, "zero": false},
              "axis": {"values": [0, 100, 200, 300], "title": "ARI [ms]", "titlePadding": 8}}
      },
      "layer": [
        {"data": {"name": "nonvalines"}, "transform": [{"filter": "datum.line == 'dash'"}],
         "mark": {"type": "line", "color": "#1a1a1a", "strokeWidth": 1.2, "strokeDash": [7, 5]}},
        {"data": {"name": "nonvalines"}, "transform": [{"filter": "datum.line == 'fit'"}],
         "mark": {"type": "line", "color": "#1a1a1a", "strokeWidth": 1.2}},
        {"data": {"name": "nonva"},
         "mark": {"type": "point", "filled": true, "size": 105, "stroke": "#1a1a1a", "strokeWidth": 1, "opacity": 1, "fillOpacity": 0.95},
         "encoding": {
           "color": {"field": "ratio", "type": "quantitative", "scale": {"scheme": "viridis", "domain": [0.33, 1.29]},
                     "legend": {"title": "RT/Cycle Length", "orient": "none", "legendX": 947, "legendY": 276, "direction": "vertical", "values": [0.5, 0.75, 1, 1.25], "format": ".2f", "gradientLength": 91, "gradientThickness": 19, "labelOffset": 12, "titlePadding": 8}},
           "shape": {"field": "type", "type": "nominal", "scale": {"domain": ["not degen", "degen"], "range": ["circle", "triangle-down"]},
                     "legend": {"title": null, "orient": "none", "legendX": 949, "legendY": 190, "symbolFillColor": "white", "symbolStrokeColor": "black", "symbolStrokeWidth": 1, "symbolSize": 90, "labelOffset": 12}}
         }}
      ]
    }
  ]
}
